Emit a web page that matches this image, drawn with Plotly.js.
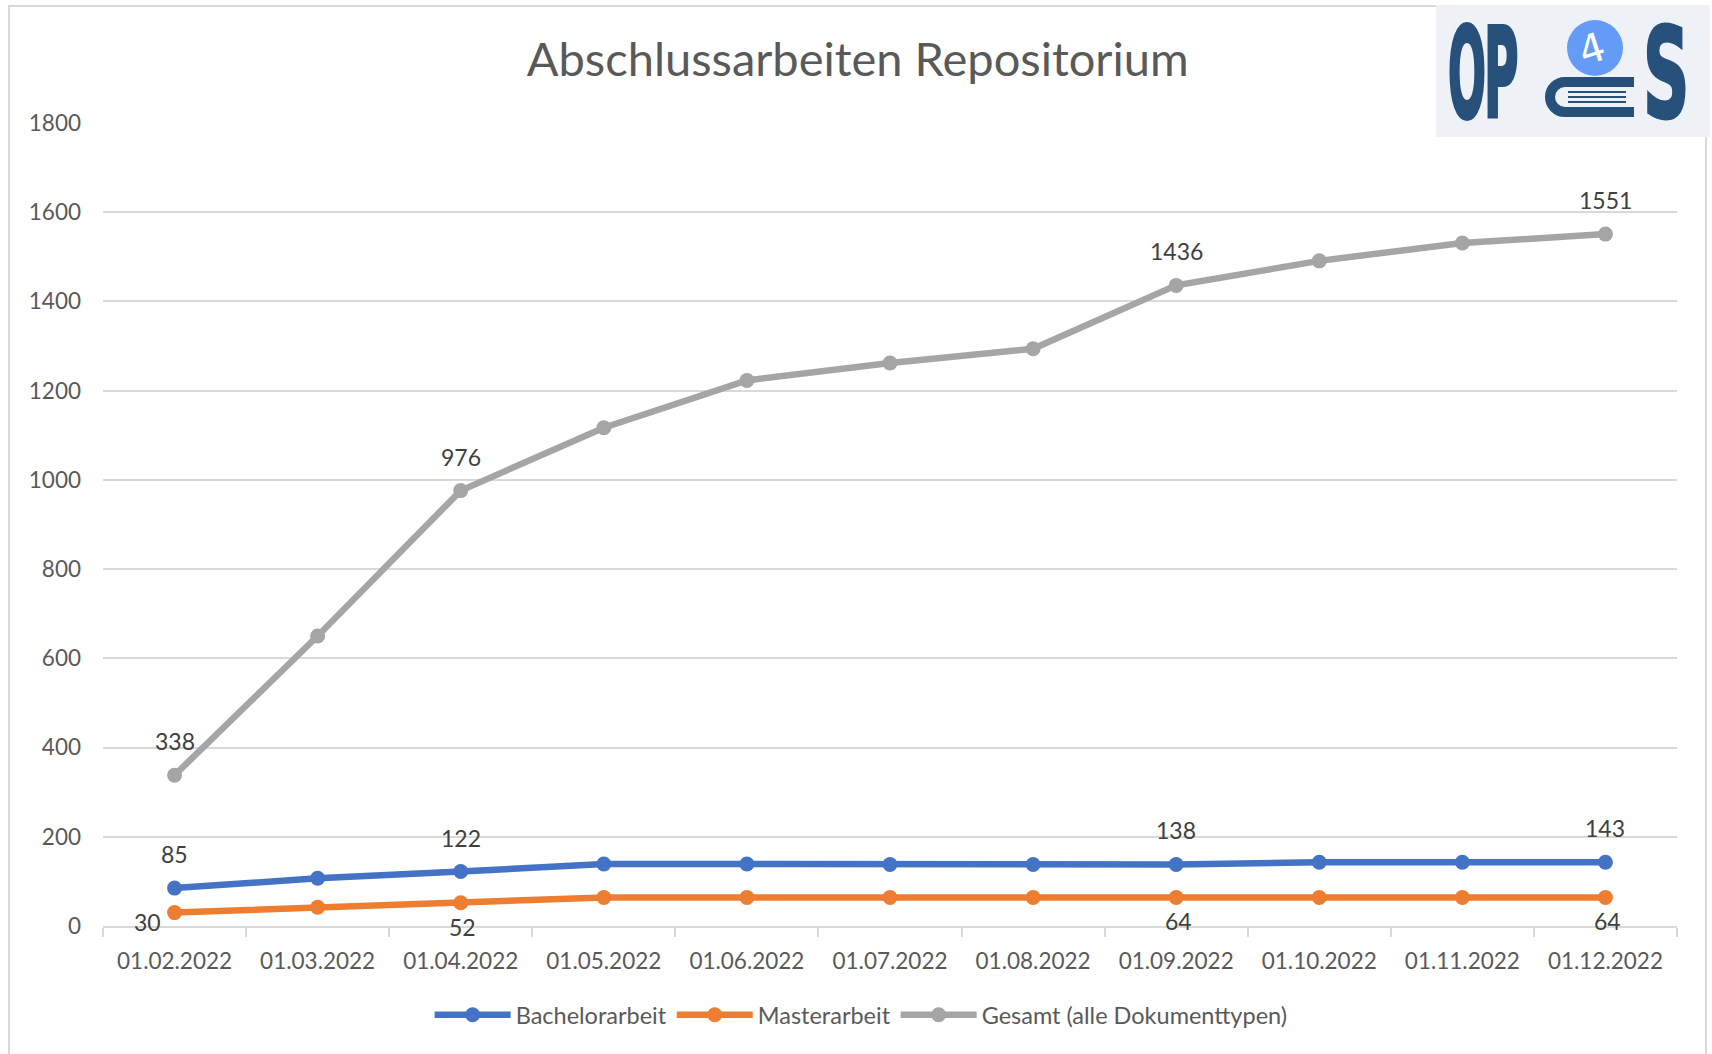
<!DOCTYPE html>
<html>
<head>
<meta charset="utf-8">
<script src="https://cdn.plot.ly/plotly-3.0.1.min.js"></script>
<style>
  html, body { margin: 0; padding: 0; background: #ffffff; }
  #wrap { position: relative; width: 1712px; height: 1054px; overflow: hidden; }
  #chart { position: absolute; left: 0; top: 0; width: 1712px; height: 1054px; }
  #frame { position: absolute; left: 8px; top: 5px; width: 1699px; height: 1060px;
           border: 2px solid #d9d9d9; box-sizing: border-box; pointer-events: none; }
  #logo { position: absolute; left: 1436px; top: 0px; width: 276px; height: 180px; pointer-events: none; overflow: visible; }
</style>
</head>
<body>
<div id="wrap">
  <div id="chart"></div>
  <div id="frame"></div>
  <svg id="logo" width="276" height="180" viewBox="0 0 276 180" xmlns="http://www.w3.org/2000/svg">
    <g transform="translate(0,5)">
      <rect x="0" y="0" width="274" height="132" fill="#eef2f6"/>
      <text transform="translate(12,112) scale(0.36,1)" font-family="DejaVu Sans, Roboto, sans-serif" font-weight="bold" font-size="124"
            fill="#27507a" stroke="#27507a" stroke-width="4">O</text>
      <text transform="translate(48,112) scale(0.38,1)" font-family="DejaVu Sans, Roboto, sans-serif" font-weight="bold" font-size="124"
            fill="#27507a" stroke="#27507a" stroke-width="4">P</text>
      <text transform="translate(207,112) scale(0.52,1)" font-family="DejaVu Sans, Roboto, sans-serif" font-weight="bold" font-size="124"
            fill="#27507a" stroke="#27507a" stroke-width="3">S</text>
      <circle cx="159" cy="43" r="28" fill="#639bf6"/>
      <text transform="translate(160,57) rotate(-18)" font-family="DejaVu Sans, sans-serif" font-size="40" fill="#ffffff"
            text-anchor="middle">4</text>
      <path d="M198,77 H129 A15,15 0 0 0 129,107 H198" fill="none" stroke="#27507a" stroke-width="10"/>
      <path d="M132,87 H190 M132,92 H190 M132,97 H190" fill="none" stroke="#27507a" stroke-width="2"/>
    </g>
  </svg>
</div>
<script>
// ---- data ----
const categories = ['01.02.2022','01.03.2022','01.04.2022','01.05.2022','01.06.2022','01.07.2022',
                    '01.08.2022','01.09.2022','01.10.2022','01.11.2022','01.12.2022'];
const bachelor = [85, 107, 122, 139, 139, 138, 138, 138, 143, 143, 143];
const master   = [30, 42, 52, 64, 64, 64, 64, 64, 64, 64, 64];
const gesamt   = [338, 650, 976, 1117, 1223, 1262, 1294, 1436, 1491, 1531, 1551];
const seriesNames = ['Bachelorarbeit', 'Masterarbeit', 'Gesamt (alle Dokumenttypen)'];
const labelIndex = [0, 2, 7, 10];
const yTicks = [0, 200, 400, 600, 800, 1000, 1200, 1400, 1600, 1800];

// ---- styling ----
const colors = ['#4472c4', '#ed7d31', '#a5a5a5'];
const FONT = 'Lato, "Open Sans", sans-serif';

function trace(y, name, color) {
  return {
    type: 'scatter', mode: 'lines+markers', x: categories, y: y, name: name,
    line: { color: color, width: 6.5 },
    marker: { color: color, size: 15 },
    cliponaxis: false, hoverinfo: 'x+y+name'
  };
}

const data = [
  trace(bachelor, seriesNames[0], colors[0]),
  trace(master, seriesNames[1], colors[1]),
  trace(gesamt, seriesNames[2], colors[2])
];

const annotations = [];
const labelFont = { family: FONT, size: 23, color: '#404040' };
labelIndex.forEach(i => {
  annotations.push({ x: categories[i], y: gesamt[i], text: String(gesamt[i]), showarrow: false,
                     xref: 'x', yref: 'y', yshift: 34, font: labelFont });
  annotations.push({ x: categories[i], y: bachelor[i], text: String(bachelor[i]), showarrow: false,
                     xref: 'x', yref: 'y', yshift: 34, font: labelFont });
  annotations.push({ x: categories[i], y: master[i], text: String(master[i]), showarrow: false,
                     xref: 'x', yref: 'y', yshift: i === 0 ? -9 : -24, xshift: i === 0 ? -27 : 2,
                     font: labelFont });
});

const layout = {
  width: 1712, height: 1054,
  paper_bgcolor: '#ffffff', plot_bgcolor: '#ffffff',
  margin: { l: 103, r: 35, t: 123, b: 128, pad: 0 },
  title: {
    text: 'Abschlussarbeiten Repositorium',
    font: { family: FONT, size: 47, color: '#595959' },
    x: 0.501, xref: 'container', xanchor: 'center',
    y: 1 - 60 / 1054, yref: 'container', yanchor: 'middle'
  },
  xaxis: {
    type: 'category', range: [-0.5, 10.5], fixedrange: true, automargin: false,
    tickson: 'boundaries', ticks: 'outside', ticklen: 9, tickwidth: 2, tickcolor: '#d9d9d9',
    showline: true, linecolor: '#d9d9d9', linewidth: 2, showgrid: false, zeroline: false,
    tickfont: { family: FONT, size: 22.5, color: '#595959' }, ticklabelstandoff: 14
  },
  yaxis: {
    range: [0, 1800], tickvals: yTicks, ticktext: yTicks.map(String), fixedrange: true, automargin: false,
    showgrid: true, gridcolor: '#d9d9d9', gridwidth: 2, zeroline: false, showline: false, ticks: '',
    tickfont: { family: FONT, size: 22.5, color: '#595959' }, ticklabelstandoff: 21
  },
  showlegend: true,
  legend: {
    orientation: 'h', x: 0.503, xref: 'container', xanchor: 'center',
    y: 1 - 1015 / 1054, yref: 'container', yanchor: 'middle',
    font: { family: FONT, size: 23.5, color: '#595959' }, itemwidth: 76, tracegroupgap: 0
  },
  annotations: annotations,
  hovermode: 'closest'
};

Plotly.newPlot('chart', data, layout, { displayModeBar: false, staticPlot: false });
</script>
</body>
</html>
